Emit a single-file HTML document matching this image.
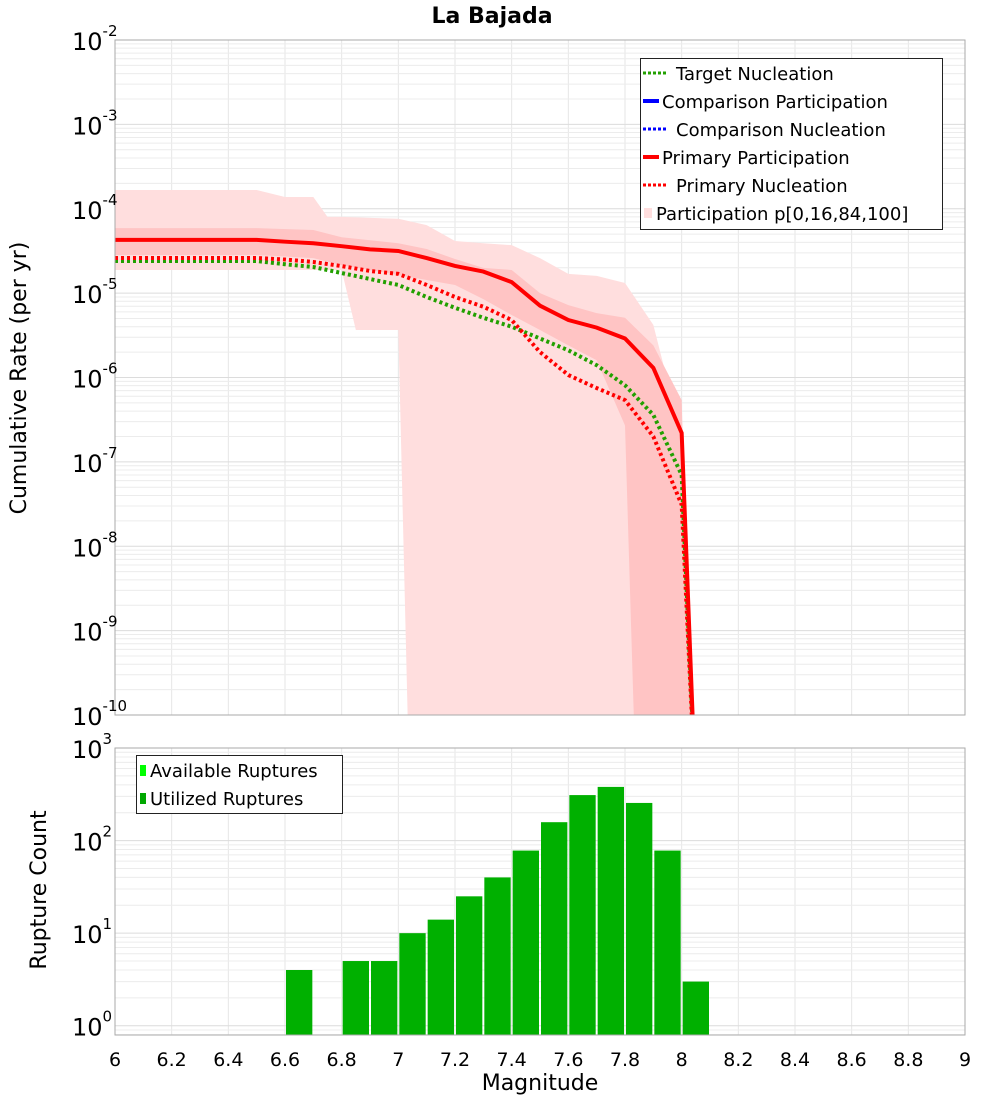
<!DOCTYPE html>
<html><head><meta charset="utf-8"><style>
html,body{margin:0;padding:0;background:#fff;}
svg{display:block;font-family:"DejaVu Sans","Liberation Sans",sans-serif;}
</style></head><body>
<svg id="chart" width="1000" height="1100" viewBox="0 0 1000 1100" xmlns="http://www.w3.org/2000/svg">
<text x="492" y="23" text-anchor="middle" font-size="22" font-weight="bold">La Bajada</text>
<g id="topG"></g><g id="botG"></g>
<text transform="translate(26,378) rotate(-90)" text-anchor="middle" font-size="22">Cumulative Rate (per yr)</text>
<text transform="translate(46,890) rotate(-90)" text-anchor="middle" font-size="22">Rupture Count</text>
<text x="540" y="1090" text-anchor="middle" font-size="22">Magnitude</text>
</svg>
<script>
const mags = [6.0,6.1,6.2,6.3,6.4,6.5,6.6,6.7,6.8,6.9,7.0,7.1,7.2,7.3,7.4,7.5,7.6,7.7,7.8,7.9,8.0,8.05];
const primaryPart = [4.27e-5,4.27e-5,4.27e-5,4.27e-5,4.27e-5,4.27e-5,4.07e-5,3.9e-5,3.6e-5,3.3e-5,3.16e-5,2.6e-5,2.1e-5,1.8e-5,1.35e-5,7.1e-6,4.8e-6,3.9e-6,2.9e-6,1.3e-6,2.2e-7,1e-11];
const primaryNucl = [2.61e-5,2.61e-5,2.61e-5,2.61e-5,2.61e-5,2.61e-5,2.5e-5,2.34e-5,2.09e-5,1.83e-5,1.69e-5,1.25e-5,9.0e-6,6.9e-6,4.8e-6,2.0e-6,1.07e-6,7.5e-7,5.4e-7,2.0e-7,3.1e-8,1e-11];
const targetNucl = [2.4e-5,2.4e-5,2.4e-5,2.4e-5,2.4e-5,2.4e-5,2.2e-5,2.04e-5,1.73e-5,1.47e-5,1.25e-5,9.0e-6,6.7e-6,5.1e-6,4.0e-6,2.9e-6,2.1e-6,1.4e-6,8.1e-7,3.6e-7,7e-8,1e-11];
const outerMags = [6.0,6.5,6.6,6.7,6.75,6.8,7.0,7.1,7.2,7.3,7.4,7.5,7.6,7.7,7.8,7.9,8.0,8.03];
const outerUpper = [1.67e-4,1.67e-4,1.38e-4,1.38e-4,8.0e-5,8.0e-5,7.6e-5,6.4e-5,4.15e-5,3.9e-5,3.7e-5,2.6e-5,1.69e-5,1.6e-5,1.32e-5,4.2e-6,2e-7,1e-11];
const outerLowMags = [6.0,6.8,6.85,7.0,7.04];
const outerLower = [1.88e-5,1.88e-5,3.66e-6,3.66e-6,1e-11];
const innerMags = [6.0,6.5,6.7,6.8,7.0,7.1,7.2,7.3,7.4,7.5,7.6,7.7,7.8,7.9,8.0,8.04];
const innerUpper = [5.9e-5,5.9e-5,5.6e-5,4.6e-5,3.9e-5,3.33e-5,2.54e-5,1.99e-5,1.88e-5,1.0e-5,7.2e-6,5.8e-6,5.1e-6,2.4e-6,5.4e-7,1e-11];
const innerLowMags = [6.0,6.5,6.7,6.8,7.0,7.2,7.3,7.4,7.5,7.6,7.7,7.8,7.84];
const innerLower = [2.83e-5,2.83e-5,2.6e-5,2.15e-5,1.64e-5,1.25e-5,8.5e-6,5.5e-6,3.66e-6,2.4e-6,1.6e-6,2.7e-7,1e-11];
const binStarts = [6.6,6.8,6.9,7.0,7.1,7.2,7.3,7.4,7.5,7.6,7.7,7.8,7.9,8.0];
const counts = [4,5,5,10,14,25,40,78,158,310,380,255,78,3];
const xTicks = ["6","6.2","6.4","6.6","6.8","7","7.2","7.4","7.6","7.8","8","8.2","8.4","8.6","8.8","9"];
const topExps = [-2,-3,-4,-5,-6,-7,-8,-9,-10];
const botExps = [3,2,1,0];

const NS="http://www.w3.org/2000/svg";
const L=115,R=965, T1=40,B1=715, T2=748,B2=1035;
const xs=m=>L+(m-6)/3*(R-L);
const y1=v=>{const lg=Math.log10(v);return T1+(-2-lg)/8*(B1-T1);};
const y2=v=>B2-(Math.log10(v)+0.1)/3.1*(B2-T2);
function mk(tag,attrs,parent){const e=document.createElementNS(NS,tag);for(const k in attrs)e.setAttribute(k,attrs[k]);parent.appendChild(e);return e;}
const topG=document.getElementById('topG'), botG=document.getElementById('botG');
const svgEl=document.getElementById('chart');

const defs=mk('defs',{},svgEl);
const cp=mk('clipPath',{id:'c1'},defs);mk('rect',{x:L,y:T1,width:R-L,height:B1-T1},cp);

function grid(parent,yf,lo,hi,T,B){
  for(let i=0;i<xTicks.length;i++){const m=6+i*0.2;const g=mk('line',{x1:xs(m),x2:xs(m),y1:T,y2:B,stroke:'#e6e6e6','stroke-width':1},parent);
  
  }
  for(let e=lo;e<hi;e++){for(let k=1;k<10;k++){const yy=yf(k*Math.pow(10,e));if(yy<T||yy>B)continue;const g=mk('line',{x1:L,x2:R,y1:yy,y2:yy,stroke:k==1?'#dcdcdc':'#ececec','stroke-width':1},parent);
  
  }}
}
grid(topG,y1,-10,-2,T1,B1);
grid(botG,y2,-1,3,T2,B2);

function band(um,uv,lm,lv,fill,name){
  let pts=um.map((m,i)=>xs(m)+','+y1(uv[i]));
  for(let i=lm.length-1;i>=0;i--)pts.push(xs(lm[i])+','+y1(lv[i]));
  const p=mk('polygon',{points:pts.join(' '),fill:fill,'clip-path':'url(#c1)'},topG);
  
  
}
band(outerMags,outerUpper,outerLowMags,outerLower,'#ffdede','band-p0-p100');
band(innerMags,innerUpper,innerLowMags,innerLower,'#ffc4c4','band-p16-p84');

function line(vals,color,dash,w,name){
  const d=mags.map((m,i)=>(i?'L':'M')+xs(m)+' '+y1(vals[i])).join(' ');
  const p=mk('path',{d:d,fill:'none',stroke:color,'stroke-width':w,'clip-path':'url(#c1)'},topG);
  if(dash)p.setAttribute('stroke-dasharray',dash);
  
  
}
line(targetNucl,'#22a000','3 3',4,'target-nucleation-line');
line(primaryNucl,'#ff0000','3 3',4,'primary-nucleation-line');
line(primaryPart,'#ff0000',null,4,'primary-participation-line');

binStarts.forEach((m,i)=>{
  const b=mk('rect',{x:xs(m)+1,y:y2(counts[i]),width:xs(m+0.1)-xs(m)-2,height:B2-y2(counts[i]),fill:'#00b000'},botG);
  
  
});

[[T1,B1],[T2,B2]].forEach(([T,B])=>{const f=mk('rect',{x:L,y:T,width:R-L,height:B-T,fill:'none',stroke:'#aaa','stroke-width':1},svgEl);

});

xTicks.forEach((t,i)=>{const tx=mk('text',{x:xs(6+i*0.2),y:1066,'text-anchor':'middle','font-size':19},svgEl);tx.textContent=t;

});
function ylab(e,yy){const g=mk('text',{x:72,y:yy+10,'font-size':24},svgEl);


const a=mk('tspan',{},g);a.textContent='10';const b=mk('tspan',{dy:-14,'font-size':15},g);b.textContent=String(e);}
topExps.forEach(e=>ylab(e,y1(Math.pow(10,e))));
botExps.forEach(e=>ylab(e,y2(Math.pow(10,e))));

const lg=mk('g',{},svgEl);


mk('rect',{x:640.5,y:58.5,width:302,height:171,fill:'#fff',stroke:'#222','stroke-width':1},lg);
const items=[['Target Nucleation','#22a000',true,false],['Comparison Participation','#0000ff',false,false],['Comparison Nucleation','#0000ff',true,false],['Primary Participation','#ff0000',false,false],['Primary Nucleation','#ff0000',true,false],['Participation p[0,16,84,100]','#ffdede',false,true]];
items.forEach((it,i)=>{const yy=73+i*28;
  const ge=mk('g',{},lg);
  
  
  if(it[3]){mk('rect',{x:644,y:yy-5,width:8,height:10,fill:it[1]},ge);}
  else{const l=mk('line',{x1:643,x2:it[2]?668:659,y1:yy,y2:yy,stroke:it[1],'stroke-width':it[2]?3:4},ge);if(it[2])l.setAttribute('stroke-dasharray','3 2');}
  const t=mk('text',{x:it[3]?656:(it[2]?676:662),y:yy+7,'font-size':18},ge);t.textContent=it[0];});

const lb=mk('g',{},svgEl);


mk('rect',{x:136.5,y:755.5,width:206,height:58,fill:'#fff',stroke:'#222','stroke-width':1},lb);
[['Available Ruptures','#00ff00'],['Utilized Ruptures','#00a800']].forEach((it,i)=>{const yy=770+i*28;
  const ge=mk('g',{},lb);
  
  
  mk('rect',{x:140,y:yy-5,width:6,height:11,fill:it[1]},ge);
  const t=mk('text',{x:150,y:yy+7,'font-size':18},ge);t.textContent=it[0];});
</script>
</body></html>
